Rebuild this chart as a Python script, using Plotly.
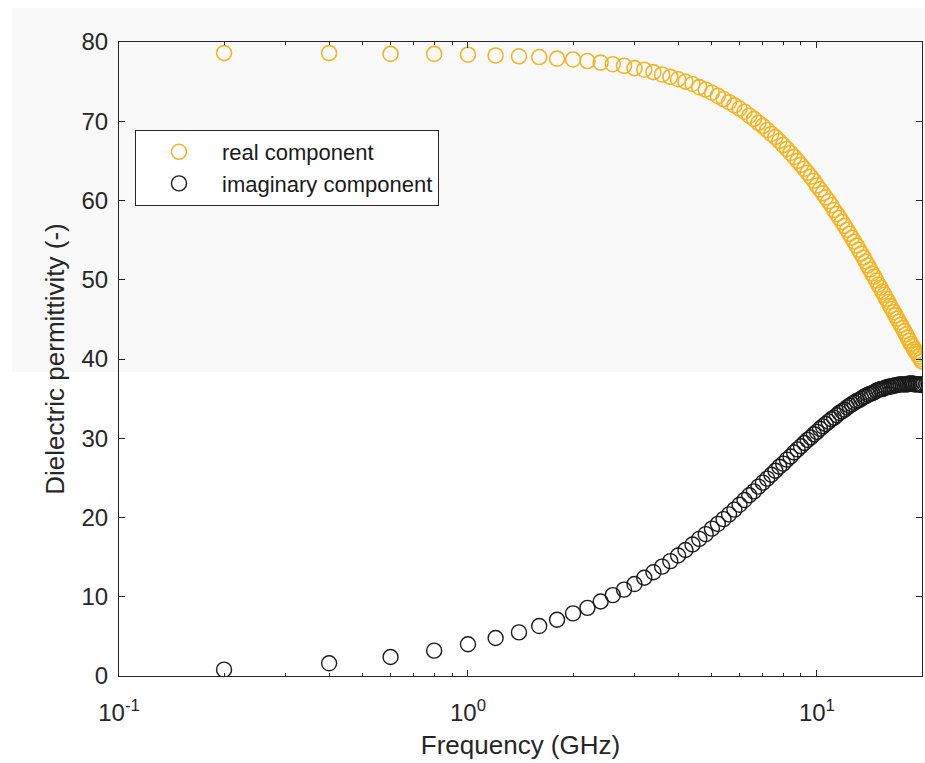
import plotly.graph_objects as go

freq_ghz = [0.2, 0.4, 0.6, 0.8, 1.0, 1.2, 1.4, 1.6, 1.8, 2.0,
            2.2, 2.4, 2.6, 2.8, 3.0, 3.2, 3.4, 3.6, 3.8, 4.0,
            4.2, 4.4, 4.6, 4.8, 5.0, 5.2, 5.4, 5.6, 5.8, 6.0,
            6.2, 6.4, 6.6, 6.8, 7.0, 7.2, 7.4, 7.6, 7.8, 8.0,
            8.2, 8.4, 8.6, 8.8, 9.0, 9.2, 9.4, 9.6, 9.8, 10.0,
            10.2, 10.4, 10.6, 10.8, 11.0, 11.2, 11.4, 11.6, 11.8, 12.0,
            12.2, 12.4, 12.6, 12.8, 13.0, 13.2, 13.4, 13.6, 13.8, 14.0,
            14.2, 14.4, 14.6, 14.8, 15.0, 15.2, 15.4, 15.6, 15.8, 16.0,
            16.2, 16.4, 16.6, 16.8, 17.0, 17.2, 17.4, 17.6, 17.8, 18.0,
            18.2, 18.4, 18.6, 18.8, 19.0, 19.2, 19.4, 19.6, 19.8, 20.0]

real_component = [78.6, 78.6, 78.5, 78.5, 78.4, 78.3, 78.2, 78.1, 77.9, 77.8,
                  77.6, 77.4, 77.2, 77.0, 76.7, 76.5, 76.2, 75.9, 75.6, 75.3,
                  75.0, 74.7, 74.3, 74.0, 73.6, 73.2, 72.8, 72.4, 72.0, 71.6,
                  71.2, 70.7, 70.3, 69.8, 69.4, 68.9, 68.4, 68.0, 67.5, 67.0,
                  66.5, 66.0, 65.5, 65.0, 64.5, 64.0, 63.5, 63.0, 62.5, 61.9,
                  61.4, 60.9, 60.4, 59.9, 59.4, 58.8, 58.3, 57.8, 57.3, 56.8,
                  56.3, 55.8, 55.3, 54.8, 54.3, 53.8, 53.3, 52.8, 52.3, 51.8,
                  51.3, 50.8, 50.4, 49.9, 49.4, 49.0, 48.5, 48.1, 47.6, 47.2,
                  46.7, 46.3, 45.9, 45.5, 45.1, 44.7, 44.3, 43.9, 43.5, 43.1,
                  42.7, 42.3, 41.9, 41.6, 41.2, 40.9, 40.6, 40.3, 40.0, 39.7]

imaginary_component = [0.8, 1.6, 2.4, 3.2, 4.0, 4.8, 5.5, 6.3, 7.1, 7.9,
                       8.6, 9.4, 10.2, 10.9, 11.6, 12.4, 13.1, 13.8, 14.5, 15.2,
                       15.9, 16.6, 17.3, 17.9, 18.6, 19.2, 19.8, 20.4, 21.0, 21.6,
                       22.2, 22.8, 23.3, 23.9, 24.4, 24.9, 25.4, 25.9, 26.4, 26.8,
                       27.3, 27.7, 28.2, 28.6, 29.0, 29.4, 29.8, 30.1, 30.5, 30.8,
                       31.2, 31.5, 31.8, 32.1, 32.4, 32.6, 32.9, 33.2, 33.4, 33.6,
                       33.9, 34.1, 34.3, 34.5, 34.7, 34.8, 35.0, 35.2, 35.3, 35.5,
                       35.6, 35.7, 35.8, 36.0, 36.1, 36.2, 36.2, 36.3, 36.4, 36.5,
                       36.5, 36.6, 36.6, 36.7, 36.7, 36.8, 36.8, 36.8, 36.8, 36.8,
                       36.8, 36.9, 36.9, 36.9, 36.8, 36.8, 36.8, 36.8, 36.8, 36.7]

x_major_ticks = [0.1, 1, 10]
x_major_labels = ["10<sup>-1</sup>", "10<sup>0</sup>", "10<sup>1</sup>"]
x_minor_ticks = [0.2, 0.3, 0.4, 0.5, 0.6, 0.7, 0.8, 0.9,
                 2, 3, 4, 5, 6, 7, 8, 9]
y_ticks = [0, 10, 20, 30, 40, 50, 60, 70, 80]

YELLOW = "#F3B526"
BLACK = "#1a1a1a"
AXIS = "#262626"
FONT = "Liberation Sans, Arial, sans-serif"

fig = go.Figure()
fig.add_trace(go.Scatter(
    x=freq_ghz, y=real_component, mode="markers", name="real component",
    marker=dict(symbol="circle-open", size=15, color=YELLOW, line=dict(width=1.6, color=YELLOW)),
))
fig.add_trace(go.Scatter(
    x=freq_ghz, y=imaginary_component, mode="markers", name="imaginary component",
    marker=dict(symbol="circle-open", size=15, color=BLACK, line=dict(width=1.4, color=BLACK)),
))

W, H = 925, 763
L, R, T, B = 119, 922, 42, 676
pw, ph = R - L, B - T

def px_x(px):
    return (px - L) / pw

def px_y(py):
    return (B - py) / ph

fig.add_shape(type="rect", xref="paper", yref="paper",
              x0=px_x(12), x1=px_x(940), y0=px_y(372), y1=px_y(8),
              fillcolor="#f9f9f9", line=dict(width=0), layer="below")

fig.update_layout(
    width=W, height=H,
    margin=dict(l=L, r=W - R, t=T, b=H - B),
    paper_bgcolor="white",
    plot_bgcolor="rgba(0,0,0,0)",
    font=dict(family=FONT, size=24, color=AXIS),
    showlegend=True,
    legend=dict(
        x=px_x(135), y=px_y(130), xanchor="left", yanchor="top",
        bgcolor="white", bordercolor=AXIS, borderwidth=1,
        font=dict(family=FONT, size=22, color="#1a1a1a"),
        itemwidth=76, tracegroupgap=0,
    ),
)

fig.update_xaxes(
    type="log", range=[-1, 1.30103],
    tickvals=x_major_ticks, ticktext=x_major_labels,
    tickfont=dict(size=24),
    ticks="inside", ticklen=6, tickwidth=1, tickcolor=AXIS,
    minor=dict(tickvals=x_minor_ticks, ticks="inside", ticklen=3, tickwidth=1, tickcolor=AXIS),
    showline=True, linecolor=AXIS, linewidth=1, mirror="ticks",
    showgrid=False, zeroline=False,
    ticklabelstandoff=15,
    title=dict(text="Frequency (GHz)", standoff=11, font=dict(size=26)),
)
fig.update_yaxes(
    range=[0, 80], tickvals=y_ticks,
    tickfont=dict(size=24),
    ticks="inside", ticklen=6, tickwidth=1, tickcolor=AXIS,
    showline=True, linecolor=AXIS, linewidth=1, mirror="ticks",
    showgrid=False, zeroline=False,
    ticklabelstandoff=5,
    title=dict(text="Dielectric permittivity (-)", standoff=9, font=dict(size=26)),
)

fig.write_html(
    "out.html",
    config={"displayModeBar": False},
    post_script="document.body.style.margin='0';document.body.style.overflow='hidden';",
)
